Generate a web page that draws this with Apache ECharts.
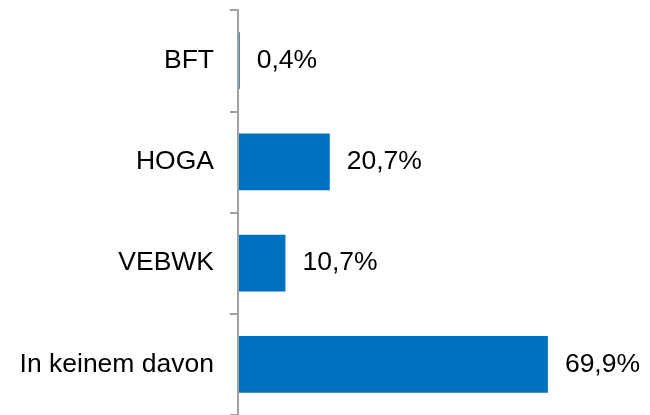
<!DOCTYPE html>
<html>
<head>
<meta charset="utf-8">
<script src="https://cdn.jsdelivr.net/npm/echarts@6/dist/echarts.min.js"></script>
<style>
  html, body { margin: 0; padding: 0; background: #fff; }
  #chart { width: 650px; height: 415px; }
</style>
</head>
<body>
<div id="chart"></div>
<script>
// Kategorien und Anteile in Prozent
var categories = ['BFT', 'HOGA', 'VEBWK', 'In keinem davon'];
var shares = [0.4, 20.7, 10.7, 69.9];

var myChart = echarts.init(document.getElementById('chart'));

var option = {
    animation: false,
    textStyle: { fontFamily: 'Liberation Sans, Arial, sans-serif' },
    grid: { left: 238, right: 13, top: 10, bottom: -4, containLabel: false },
    xAxis: {
        type: 'value',
        min: 0,
        max: 90,
        show: false
    },
    yAxis: {
        type: 'category',
        data: categories,
        inverse: true,
        z: 5,
        axisLine: { show: true, lineStyle: { color: '#a0a0a0', width: 2 } },
        axisTick: { show: true, length: 8, lineStyle: { color: '#a0a0a0', width: 2 } },
        axisLabel: { color: '#000', fontSize: 26.5, margin: 24 }
    },
    series: [{
        type: 'bar',
        data: shares,
        barCategoryGap: '44%',
        itemStyle: { color: '#0070c0' },
        label: {
            show: true,
            position: 'right',
            distance: 17,
            color: '#000',
            fontSize: 26.5,
            formatter: function (p) {
                return p.value.toFixed(1).replace('.', ',') + '%';
            }
        }
    }]
};

myChart.setOption(option);
</script>
</body>
</html>
